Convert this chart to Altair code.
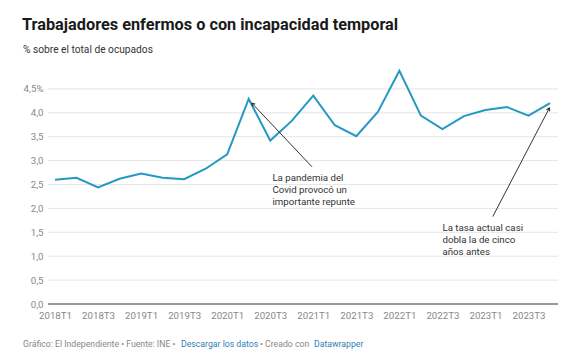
import altair as alt
import pandas as pd
import json

quarters = ["2018T1", "2018T2", "2018T3", "2018T4",
            "2019T1", "2019T2", "2019T3", "2019T4",
            "2020T1", "2020T2", "2020T3", "2020T4",
            "2021T1", "2021T2", "2021T3", "2021T4",
            "2022T1", "2022T2", "2022T3", "2022T4",
            "2023T1", "2023T2", "2023T3", "2023T4"]
values = [2.60, 2.64, 2.44, 2.62, 2.73, 2.64, 2.61, 2.83,
          3.13, 4.29, 3.42, 3.83, 4.36, 3.74, 3.51, 4.02,
          4.88, 3.94, 3.66, 3.93, 4.06, 4.12, 3.94, 4.20]
y_ticks = [0, 0.5, 1, 1.5, 2, 2.5, 3, 3.5, 4, 4.5]
x_tick_idx = list(range(0, 24, 2))

# annotations (data coordinates: quarter index, value)
ann_text = ["La pandemia del\nCovid provocó un\nimportante repunte",
            "La tasa actual casi\ndobla la de cinco\naños antes"]
ann_tx = [10.1, 18.0]
ann_ty = [2.58, 1.52]
arrow_x1 = [11.94, 20.34]
arrow_y1 = [2.87, 1.83]
arrow_x2 = [9.15, 22.97]
arrow_y2 = [4.20, 4.10]
arrow_angle = [317, 28]

FONT = "Roboto"
LINE = "#2399c3"

df = pd.DataFrame({"i": list(range(len(quarters))), "q": quarters, "v": values})
ann = pd.DataFrame({"t": ann_text, "x": ann_tx, "y": ann_ty})
arr = pd.DataFrame({"x1": arrow_x1, "y1": arrow_y1, "x2": arrow_x2, "y2": arrow_y2,
                    "a": arrow_angle})

W, H = 510, 239
xs = alt.Scale(domain=[-0.325, 23.37], nice=False, zero=False)
ys = alt.Scale(domain=[0, 5], nice=False)

label_arr = json.dumps(quarters)
yexpr = ("datum.value == 4.5 ? '4,5%' : replace(format(datum.value, '.1f'), '.', ',')")

XAX = alt.Axis(values=x_tick_idx, title=None, grid=False, domain=False,
               ticks=False, labelExpr=label_arr + "[datum.value]",
               labelFont=FONT, labelFontSize=9.7, labelColor="#888888",
               labelPadding=6, labelBaseline="top", labelOverlap=False)
YAX = alt.Axis(values=y_ticks, title=None, grid=False, domain=False,
               ticks=False, labelExpr=yexpr, labelFont=FONT,
               labelFontSize=9.7, labelColor="#888888", labelPadding=5,
               labelOverlap=False)

base = alt.Chart(df)

grid = alt.Chart(pd.DataFrame({"g": y_ticks[1:]})).mark_rule(
    color="#e5e5e5", strokeWidth=1
).encode(y=alt.Y("g:Q", scale=ys, axis=YAX), x=alt.value(0), x2=alt.value(W))

line = base.mark_line(color=LINE, strokeWidth=2).encode(
    x=alt.X("i:Q", scale=xs, axis=XAX),
    y=alt.Y("v:Q", scale=ys, axis=YAX),
)

baseline = alt.Chart(pd.DataFrame({"z": [0]})).mark_rule(
    color="#333333", strokeWidth=1
).encode(y=alt.Y("z:Q", scale=ys, axis=YAX), x=alt.value(0), x2=alt.value(W))

arrows = alt.Chart(arr).mark_rule(color="#333333", strokeWidth=1).encode(
    x=alt.X("x1:Q", scale=xs, axis=XAX), y=alt.Y("y1:Q", scale=ys, axis=YAX),
    x2="x2:Q", y2="y2:Q")

heads = alt.Chart(arr).mark_point(
    shape="M -0.55 0.9 L 0 0 L 0.55 0.9", filled=False, color="#333333",
    strokeWidth=1.1, size=40, opacity=1
).encode(x=alt.X("x2:Q", scale=xs, axis=XAX), y=alt.Y("y2:Q", scale=ys, axis=YAX),
         angle=alt.Angle("a:Q", scale=None))

texts = alt.Chart(ann).mark_text(
    align="left", baseline="alphabetic", font=FONT, fontSize=9.7,
    color="#333333", lineBreak="\n", lineHeight=12
).encode(x=alt.X("x:Q", scale=xs, axis=XAX), y=alt.Y("y:Q", scale=ys, axis=YAX),
         text="t:N")

def label(txt, x, y, size, color="#333333", weight="normal"):
    return alt.Chart(pd.DataFrame({"t": [txt]})).mark_text(
        align="left", baseline="alphabetic", font=FONT, fontSize=size,
        color=color, fontWeight=weight
    ).encode(text="t:N", x=alt.value(x), y=alt.value(y))

TOP, LEFT = 65, 48
title = label("Trabajadores enfermos o con incapacidad temporal", 22 - LEFT, 30 - TOP, 16.3,
              "#1a1a1a", "bold")
subtitle = label("% sobre el total de ocupados", 23 - LEFT, 53 - TOP, 10.2, "#333333")

foot_y = 347 - TOP
FS = 8.7
f1 = label("Gráfico: El Independiente • Fuente: INE •", 23 - LEFT, foot_y, FS, "#888888")
f2 = label("Descargar los datos", 181 - LEFT, foot_y, FS, "#2f7fb5")
f3 = label("• Creado con", 260 - LEFT, foot_y, FS, "#888888")
f4 = label("Datawrapper", 314 - LEFT, foot_y, FS, "#2f7fb5")

chart = alt.layer(grid, baseline, line, arrows, heads, texts,
                  title, subtitle, f1, f2, f3, f4).properties(
    width=W, height=H,
    autosize=alt.AutoSizeParams(type="none"),
    padding={"left": LEFT, "top": TOP, "right": 574 - LEFT - W, "bottom": 353 - TOP - H},
    background="white",
).configure_view(stroke=None, clip=False)

chart.save("out.html", embed_options={"renderer": "svg", "actions": False})
